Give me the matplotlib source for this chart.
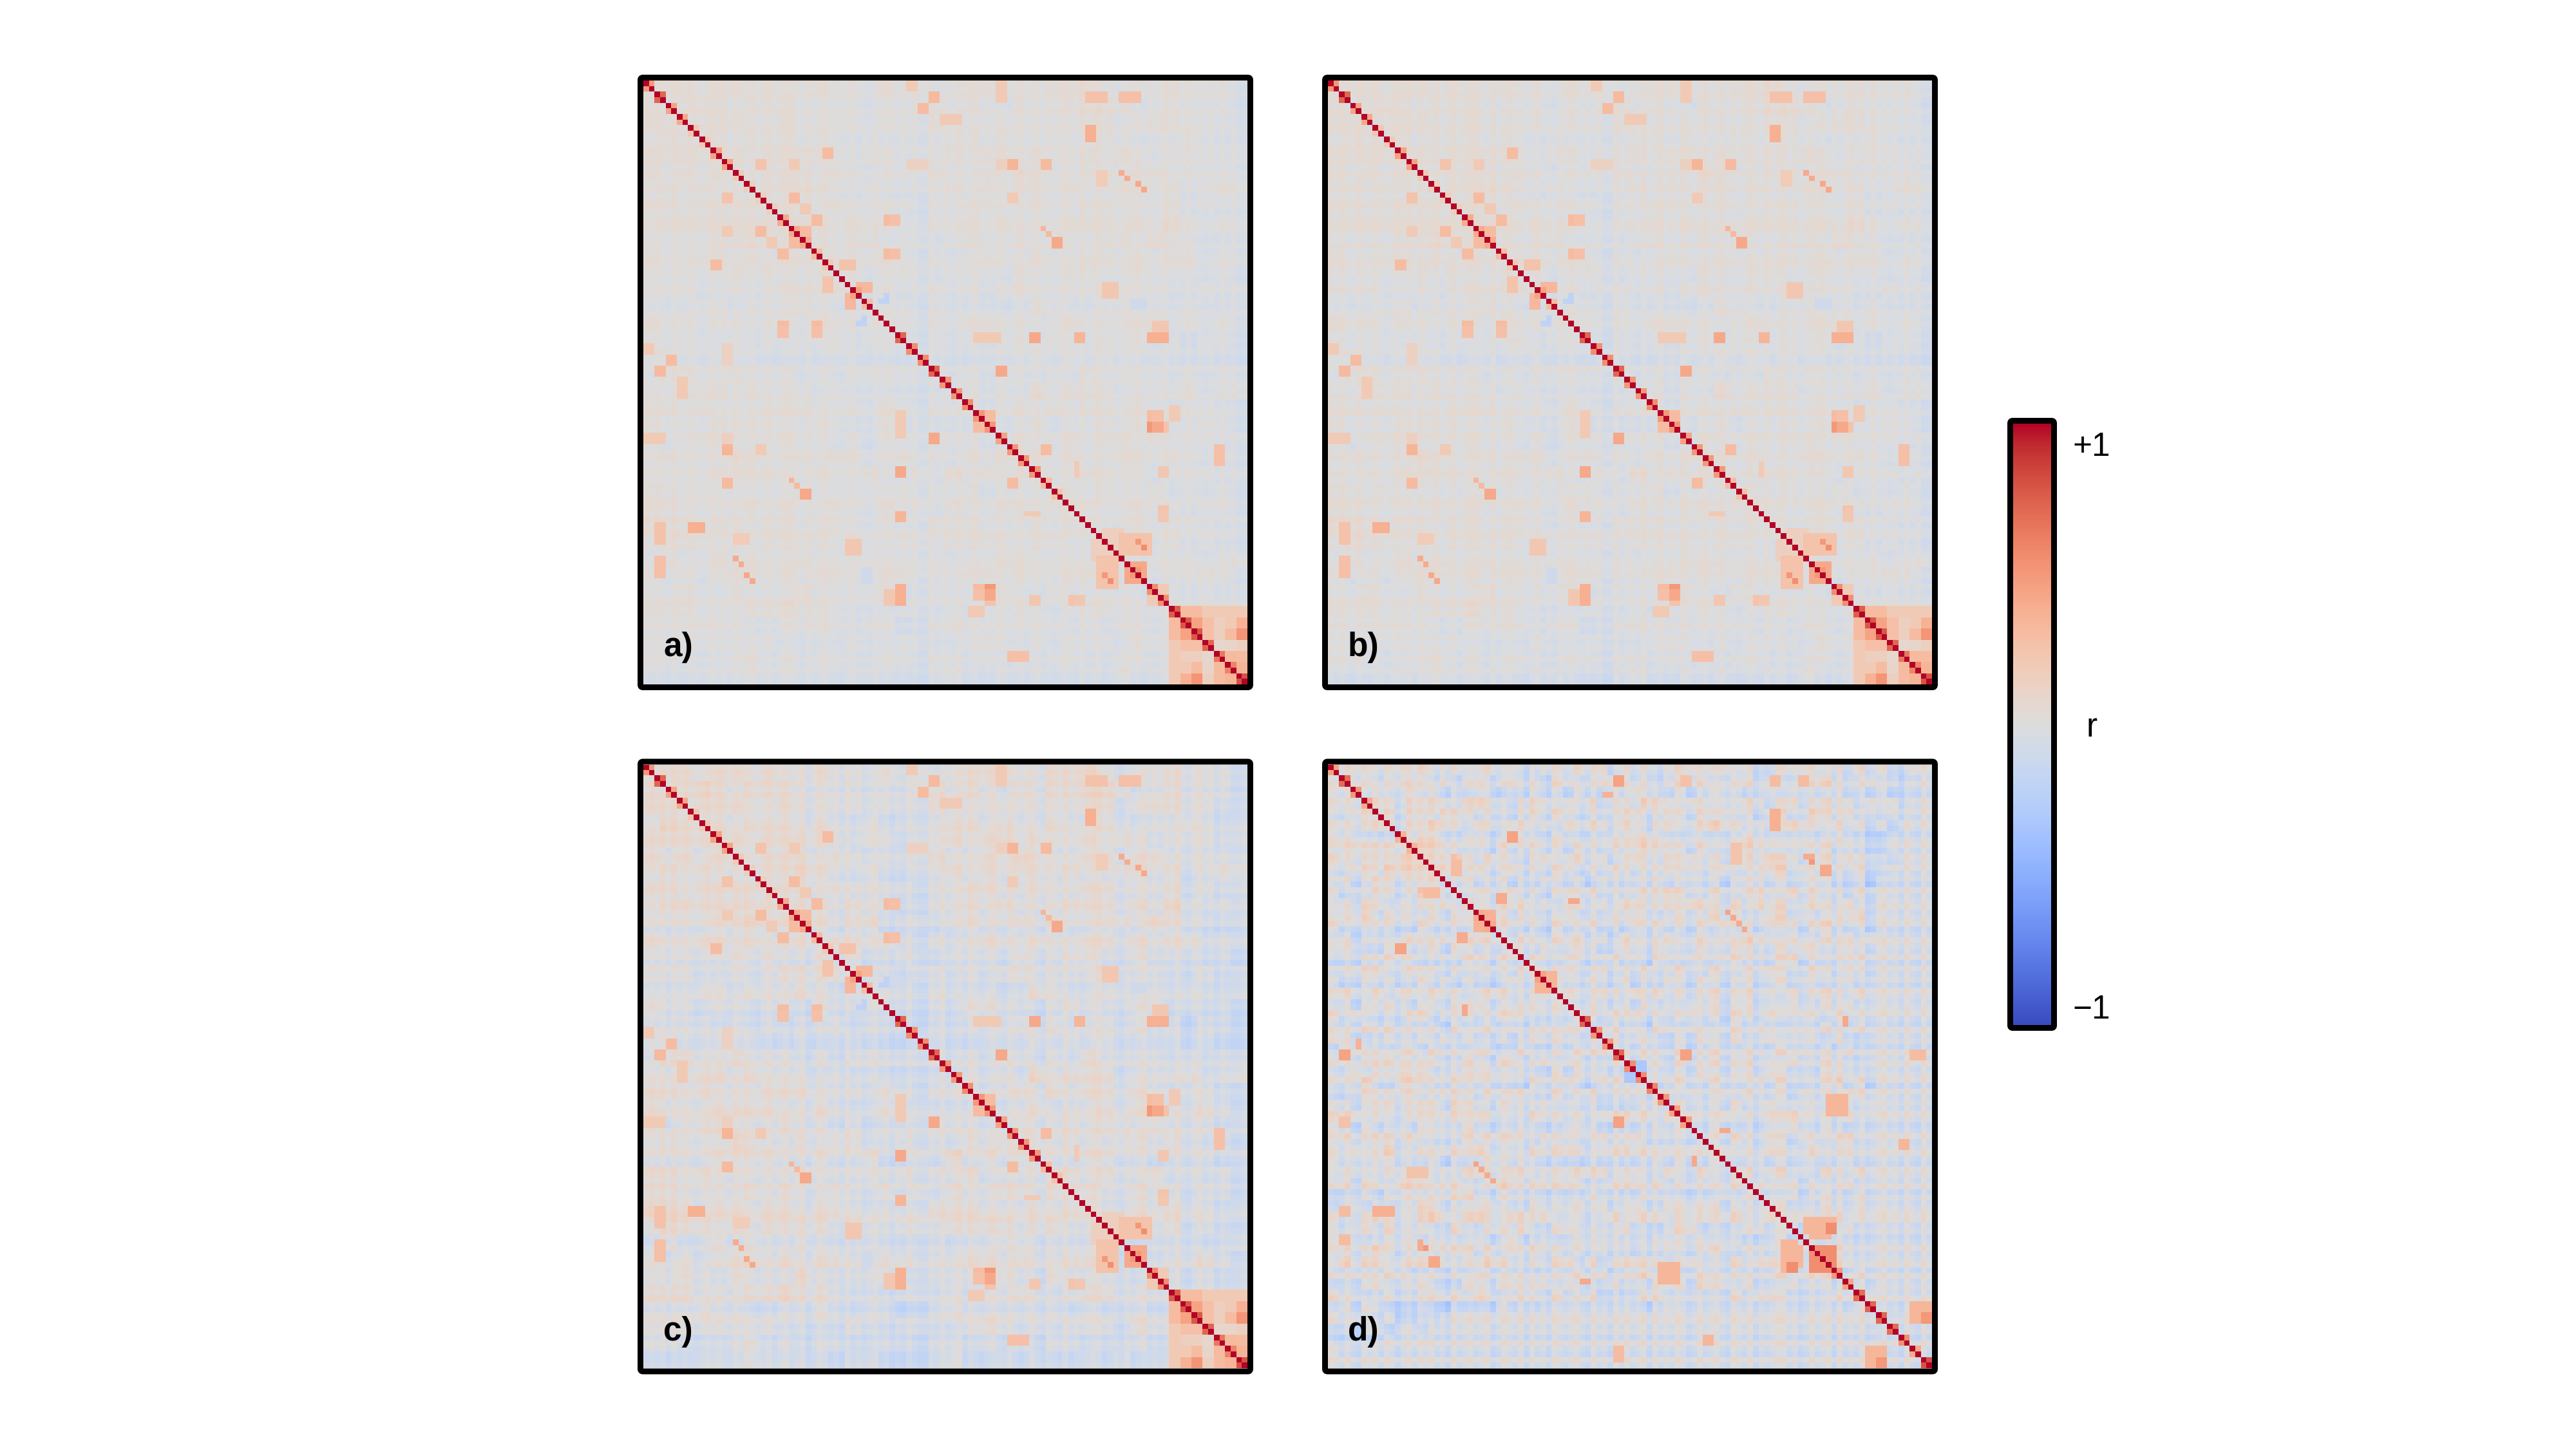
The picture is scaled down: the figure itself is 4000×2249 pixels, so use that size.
#!/usr/bin/env python3
"""
Four channel correlation matrices with a shared colour bar
"""

import numpy as np
import matplotlib
matplotlib.use("Agg")
import matplotlib.pyplot as plt
from matplotlib.patches import FancyBboxPatch

plt.rcParams['font.family'] = ['Liberation Sans', 'DejaVu Sans']

N = 108
PANEL_LABELS = ['a)', 'b)', 'c)', 'd)']
TICK_LABELS = ['+1', 'r', '\u22121']

# Tint of a region, as a letter
LEVELS = {'3': .18, '2': .12, '1': .06, '0': .0, 'a': -.06, 'b': -.12, 'c': -.18, 'd': -.25}

# upper triangle of the background of panels a-c, one letter per 3 cells, row i starts at the diagonal
BG_ABC = [
    "0110 1101 0010 0a10 1a01 1000 1120 a001 000a",
    "012 1011 1000 0a00 1101 0a10 1122 1a01 000a",
    "01 1100 1000 0a00 0100 0000 0011 a011 00aa",
    "1 1011 1010 a0a0 0011 0100 1001 0a00 10a0",
    "1101 1110 a00a 0010 1101 0010 10a0 00a0",
    "101 1101 0a00 0100 1021 0011 0110 0000",
    "01 1210 a0aa 0010 1011 0100 1101 a011",
    "1 1101 0000 a001 1001 0011 0001 a0a0",
    "1110 100a a001 0100 0111 0102 0a00",
    "110 11a0 0a01 0010 1001 1021 0aa0",
    "01 1010 a0a0 1001 0011 0101 1a00",
    "0 1a01 0a00 0a10 0110 0100 0a0a",
    "0a0 a00a 0a01 0000 1000 aa0a 0",
    "a0 0a0a aaba 10aa 00a0 a0aa 0",
    "0 0a0a 1100 a010 0011 a0a0 a",
    "0a0 a0a0 1010 0101 a0b0 0a",
    "00a a000 1010 1000 0a0a a",
    "0a 0a00 a0a1 0000 a0a0 0",
    "a 0a0a 2011 1a00 01a0 1",
    "0a0 1010 1101 0a00 aa1",
    "0a 01a0 0101 1001 0aa",
    "a 1001 0110 1000 a0a",
    "110 1001 1010 a0a0",
    "10 0110 0a00 0a0a",
    "1 1010 01a0 a0a0",
    "110 0100 a00a a",
    "10 0101 00a0 a",
    "1 1001 a0aa 0",
    "0a0 00a0 1100",
    "aa 0010 a00a",
    "a 0a0a 0000",
    "0a 0a00 0a0",
    "a0a 0aa0 0",
    "0a 000a 0",
    "a 00a 0",
    "0 a0 ",
]

# upper triangle of the background of panel d, one letter per 2 cells, row i starts at the diagonal
BG_D = [
    "0010 a010 1a00 a01a 0ba0 0a10 1b0a 0b01 1001 a0bb 0010 a0b1 a0bb 1",
    "110a 0110 a1b0 1a01 a0b1 0a01 20a0 b010 1a00 1a0b a012 0a01 aab0",
    "a01 0120 1a0a 10b0 a1a0 b10a 1021 0a1a 0110 a01a 1100 1a0a 0ba",
    "a10 a101 0a12 0ab0 10a0 a1b0 0a21 0a10 a0a1 0b01 a010 0b1a 0b",
    "01a 1002 10a0 ab01 a10b 0a01 1a01 0a10 1a0b 01a0 2101 a0b0 a",
    "0a 1021 0b10 a01a 0b1a 10a1 0b01 a012 10a0 a021 0a1a 0bac",
    "a 1220 a01a 0b10 a10a 0011 2210 a10a 0021 0a01 a010 abc",
    "0 2210 a0b1 a01a 0b10 a101 2110 a1a0 1210 a010 1a0a bc",
    "1 113 0a10 ab01 a01a 0b01 0a10 1a0a 0102 10a0 1a10 abb",
    "2 2a 01a0 1a0a 10b0 a10a 0010 1a01 a011 2a10 a0a1 bb",
    "00 1a0 1b0a 10a0 b10a 001a 01a0 b011 a0a1 10ab 0ca",
    "0 a10 a1a0 b010 1a0a 0112 10a1 0a12 0a20 1a0b 1a",
    "1 0a 101a 0b10 a0a1 1001 0210 a1a2 01a0 10a1 ab",
    "0 a1 a10a 01a0 a101 0a01 0020 1a01 2a1a 0112 a",
    "a 10 a0b1 a01a 0b10 1a0a 1a20 0a10 1a12 0a0b",
    "0 a1 0a10 1a0b 10a0 1a01 a102 10a1 0a10 1a1",
    "1 0a 1a01 0ba1 0a10 a01a 0110 a102 1a01 0a",
    "a 1 0a10 a01a 0b10 a10a 1100 a12a 0a01 1",
    "1a 01a0 1a0a 1a01 0a10 a101 0a01 0a10 a",
    "0 10a1 0a1b 0a10 a10a 01a0 1a10 a01a ",
    "a 1a01 0a10 1a0a 01a0 1a0b 1a01 0a1",
    "0 a10a 0b1a 0a10 1a01 a0a1 0a10 1a",
    "1 0a10 1a0a 01a0 b10a 1a01 0b1a 0",
    "a 01a 0b10 a10a 01a1 0b01 a10a 1",
    "0 1a 01ab 0a10 a1a0 1a01 0b1a b",
    "1 0 a10a 1a01 0a10 a101 a0a1 a",
    "0 a1 0b1a 01a0 1a0a 10a1 0ab",
    "a 10 a0a1 0a01 a10a 0b11 0a",
    "0 a01 0a10 a01a 1a0a 12a1 b",
    "1 0a1 a01a 10a0 b1a0 a110",
    "a 10a 0a1a 01a0 10a2 0a1",
    "0 1a 01a0 a102 1a0a 1a",
    "1 a1 0a0a 1021 a10a 0",
    "a 0a 10a1 0b10 a12a ",
    "0 1a 0a10 a01a 01a",
    "1 a0 1a0a 10a0 1a",
    "0 1a 01a0 b10a 1",
    "a 10 a1a0 a01a",
    "0 0a 1a01 0a1",
    "1 1a 0a10 a1",
    "a 01 a01a 0",
    "0 a1 0a1a",
    "1 0a 10a",
    "0 a1 0a",
    "a 10 a",
    "0 a1 ",
    "1 0a",
    "0 1",
    "a0 ",
    "1a",
    "0",
    "a",
    "1",
    "0",
]

# per channel tint, 108 letters, one set per panel
TINT_AB = ("1010a1001 0a0101a10 01a01a011 0a1a0100a 01a0a1010 a0a0bb1a0 "
           "0a1a01a0a 10a01a01a 0a010a1a0 1a0a0101a 0a01a0a1a 0a0a1a0bb")
TINT_C = ("0101a1010 a01010a10 10a01a01a 01ba10a0b 1a0a01a0b ab0abb0a1 "
          "a01a10a01 0a10a01ab 10a1a0a01 1a0ab0a01 a0a0a1ab0 1a0b0abba")
TINT_D = ("10a1ab101 a10b01a10 1a0b1a01a 01ba10a1b 1a0b10a01 ab1a0b1a1 "
          "a01b1a0a1 0ba1a01ab 10a1b0a01 1a0ba1a01 b1a0a1ba0 1a0b1ab1a")

# off-diagonal pairs (i, i + 1, r)
PAIR_ABC = [(0, .5), (2, .72), (4, .45), (6, .42), (8, .22), (10, .2), (12, .45), (14, .45),
            (16, .2), (18, .15), (20, .15), (22, .15), (24, .4), (26, .4), (28, .4), (30, .3),
            (32, .2), (37, .45), (39, .3), (45, .72), (47, .55), (49, .55), (51, .72), (53, .5),
            (55, .5), (57, .55), (59, .5), (61, .5), (63, .45), (65, .5), (67, .5), (69, .5),
            (71, .3), (73, .25), (90, .55), (92, .55), (94, .75), (96, .78), (98, .78),
            (100, .72), (102, .65), (104, .6), (106, .8)]
PAIR_D = [(0, .45), (2, .7), (4, .5), (6, .4), (12, .35), (14, .35), (26, .4), (28, .4), (37, .45),
          (39, .35), (45, .72), (47, .5), (49, .5), (51, .72), (53, .55), (55, .55), (57, .6),
          (59, .5), (61, .45), (63, .45), (90, .5), (92, .45), (94, .7), (96, .72), (98, .72),
          (100, .7), (102, .55), (104, .4), (106, .8)]

# patches (row0, row1, col0, col1, r), last index included
HOT_ABC = [
    (0, 1, 47, 48, .2), (2, 3, 51, 52, .32), (4, 5, 49, 50, .3), (6, 7, 53, 56, .2),
    (0, 3, 63, 64, .2), (2, 3, 79, 82, .26), (2, 3, 85, 88, .28), (8, 8, 79, 79, .5),
    (9, 9, 80, 80, .48), (9, 10, 79, 80, .2), (12, 13, 32, 33, .3), (14, 15, 65, 66, .35),
    (14, 15, 71, 72, .32), (14, 15, 63, 64, .15), (14, 15, 47, 50, .14), (14, 15, 20, 21, .25),
    (14, 15, 26, 27, .2), (16, 16, 85, 85, .4), (17, 17, 86, 86, .4), (18, 18, 88, 88, .42),
    (19, 19, 89, 89, .42), (16, 18, 81, 82, .18), (20, 21, 26, 27, .3), (22, 23, 28, 29, .2),
    (24, 25, 30, 31, .35), (24, 25, 43, 44, .3), (20, 21, 65, 66, .2), (26, 26, 71, 71, .35),
    (27, 27, 72, 72, .32), (28, 29, 73, 74, .42), (26, 27, 28, 29, .3), (30, 31, 43, 44, .3),
    (30, 31, 24, 25, .3), (32, 33, 35, 37, .25), (36, 37, 38, 40, .33), (36, 37, 82, 84, .25),
    (39, 40, 87, 89, -.1), (38, 39, 43, 43, -.2), (42, 42, 39, 39, -.2), (45, 46, 59, 63, .2),
    (45, 46, 69, 70, .4), (45, 46, 77, 78, .35), (45, 46, 90, 91, .38), (45, 46, 92, 93, .5),
    (44, 45, 24, 25, .28), (44, 45, 30, 31, .28), (51, 52, 63, 64, .42), (65, 66, 71, 72, .35),
    (59, 60, 90, 91, .3), (61, 62, 90, 91, .5), (61, 62, 92, 93, .25), (59, 62, 61, 62, .3),
    (65, 68, 102, 103, .32), (68, 70, 77, 77, .2), (69, 70, 92, 93, .22), (76, 77, 92, 93, .25),
    (69, 70, 45, 46, .42), (77, 78, 45, 46, .35), (71, 72, 65, 66, .3), (80, 83, 82, 85, .15),
    (81, 84, 86, 89, .28), (86, 89, 86, 89, .42), (82, 82, 87, 87, .5), (83, 83, 88, 88, .5),
    (87, 88, 87, 88, .5), (85, 90, 81, 84, .25), (89, 89, 83, 83, .55), (88, 88, 82, 82, .5),
    (91, 93, 45, 46, .38), (91, 93, 43, 44, .22), (91, 92, 59, 62, .28), (91, 92, 61, 62, .42),
    (92, 93, 69, 70, .22), (92, 93, 77, 78, .22), (102, 103, 65, 68, .28), (94, 95, 58, 60, .2),
    (90, 91, 92, 93, .2), (82, 84, 36, 38, .22), (79, 80, 8, 10, .38),
    (94, 95, 96, 99, .3), (94, 95, 100, 107, .2), (96, 97, 98, 99, .45),
    (96, 97, 100, 101, .28), (96, 97, 102, 103, .15), (96, 97, 104, 105, .2), (96, 97, 106, 107, .36),
    (98, 99, 100, 101, .28), (98, 99, 102, 103, .15), (98, 99, 104, 105, .3), (98, 99, 106, 107, .52),
    (100, 101, 102, 103, .08), (100, 101, 104, 105, .1), (100, 101, 106, 107, .15),
    (102, 103, 104, 105, .32), (102, 103, 106, 107, .3), (104, 105, 106, 107, .35),
]
HOT_D = [
    (2, 3, 51, 52, .46), (5, 5, 49, 50, .36), (2, 3, 63, 64, .26), (2, 3, 79, 80, .3),
    (2, 3, 84, 85, .3), (8, 11, 79, 80, .34), (12, 13, 32, 33, .45), (14, 17, 72, 73, .25),
    (16, 16, 85, 86, .4), (17, 17, 86, 86, .5), (18, 19, 88, 89, .42), (17, 19, 22, 23, .3),
    (23, 24, 30, 31, .4), (24, 24, 43, 44, .42), (26, 28, 27, 29, .36), (26, 26, 71, 71, .45),
    (27, 27, 72, 72, .42), (28, 28, 73, 73, .4), (29, 29, 74, 74, .42), (37, 39, 37, 40, .35),
    (45, 46, 92, 92, .45), (51, 52, 63, 64, .46), (53, 54, 55, 56, -.32), (59, 62, 90, 92, .42),
    (65, 65, 70, 71, .42), (67, 68, 102, 103, .34), (51, 52, 2, 3, .45), (79, 80, 8, 11, .38),
    (79, 80, 2, 3, .3), (81, 84, 86, 89, .34), (82, 83, 88, 89, .55), (85, 90, 81, 83, .34),
    (89, 90, 82, 83, .55), (86, 90, 86, 89, .55), (89, 92, 59, 62, .34), (92, 92, 45, 46, .42),
    (96, 99, 104, 107, .34), (98, 99, 106, 107, .5), (104, 106, 51, 52, .3),
]

PANEL_GAIN = [0.45, 0.5, 0.8, 1.0]
TINT_GAIN = [0.35, 0.4, 0.6, 0.8]


def letters_to_values(text):
    return np.array([LEVELS[c] for c in text.replace(' ', '')])


def build_matrix(table, tint, pairs, hot, gain, tint_gain):
    """Put one panel together from the values read above"""
    n_coarse = len(table)
    coarse = np.zeros((n_coarse, n_coarse))
    for i, row in enumerate(table):
        vals = letters_to_values(row)[:n_coarse - i]
        coarse[i, i:i + len(vals)] = vals
    step = int(np.ceil(N / n_coarse))
    m = np.repeat(np.repeat(coarse, step, axis=0), step, axis=1)[:N, :N]
    m = np.triu(m) + np.triu(m, 1).T
    m = m * gain
    t = letters_to_values(tint) * tint_gain
    m = m + (t[:, None] + t[None, :])
    for r0, r1, c0, c1, v in hot:
        m[r0:r1 + 1, c0:c1 + 1] = v
        m[c0:c1 + 1, r0:r1 + 1] = v
    for i, v in pairs:
        m[i, i + 1] = v
        m[i + 1, i] = v
    m[np.arange(N), np.arange(N)] = 1.0
    return m


W, H = 4000, 2249
fig = plt.figure(figsize=(W / 100, H / 100), dpi=100)


def frame(x0, y0, x1, y1, lw_px=9):
    # black border with slightly rounded corners, pixel coordinates from the top left
    pad = lw_px / 2
    patch = FancyBboxPatch((x0 - pad + 3, H - y1 - pad + 3), x1 - x0 + 2 * pad - 6, y1 - y0 + 2 * pad - 6,
                           boxstyle='round,pad=3,rounding_size=4', fill=False, edgecolor='black',
                           linewidth=lw_px * 72 / 100, transform=None, zorder=5)
    fig.add_artist(patch)


panel_x = [999, 2062]
panel_y = [125, 1187.5]
size = 938

matrices = [
    build_matrix(BG_ABC, TINT_AB, PAIR_ABC, HOT_ABC, PANEL_GAIN[0], TINT_GAIN[0]),
    build_matrix(BG_ABC, TINT_AB, PAIR_ABC, HOT_ABC, PANEL_GAIN[1], TINT_GAIN[1]),
    build_matrix(BG_ABC, TINT_C, PAIR_ABC, HOT_ABC, PANEL_GAIN[2], TINT_GAIN[2]),
    build_matrix(BG_D, TINT_D, PAIR_D, HOT_D, PANEL_GAIN[3], TINT_GAIN[3]),
]

k = 0
for y0 in panel_y:
    for x0 in panel_x:
        ax = fig.add_axes([x0 / W, 1 - (y0 + size) / H, size / W, size / H])
        ax.imshow(matrices[k], cmap='coolwarm', vmin=-1, vmax=1, interpolation='nearest', aspect='auto')
        ax.axis('off')
        frame(x0, y0, x0 + size, y0 + size)
        fig.text((x0 + 31) / W, 1 - (y0 + 881) / H, PANEL_LABELS[k], fontsize=37, fontweight='bold',
                 ha='left', va='center')
        k += 1

# colour bar
cx0, cx1, cy0, cy1 = 3126, 3185, 658, 1592
cax = fig.add_axes([cx0 / W, 1 - cy1 / H, (cx1 - cx0) / W, (cy1 - cy0) / H])
cax.imshow(np.linspace(1, -1, 256)[:, None], cmap='coolwarm', vmin=-1, vmax=1, aspect='auto')
cax.axis('off')
frame(cx0, cy0, cx1, cy1)

for label, ypos in zip(TICK_LABELS, [695, 1130, 1568]):
    fig.text(3248 / W, 1 - ypos / H, label, fontsize=37, ha='center', va='center')

fig.savefig('out.png', dpi=100)
